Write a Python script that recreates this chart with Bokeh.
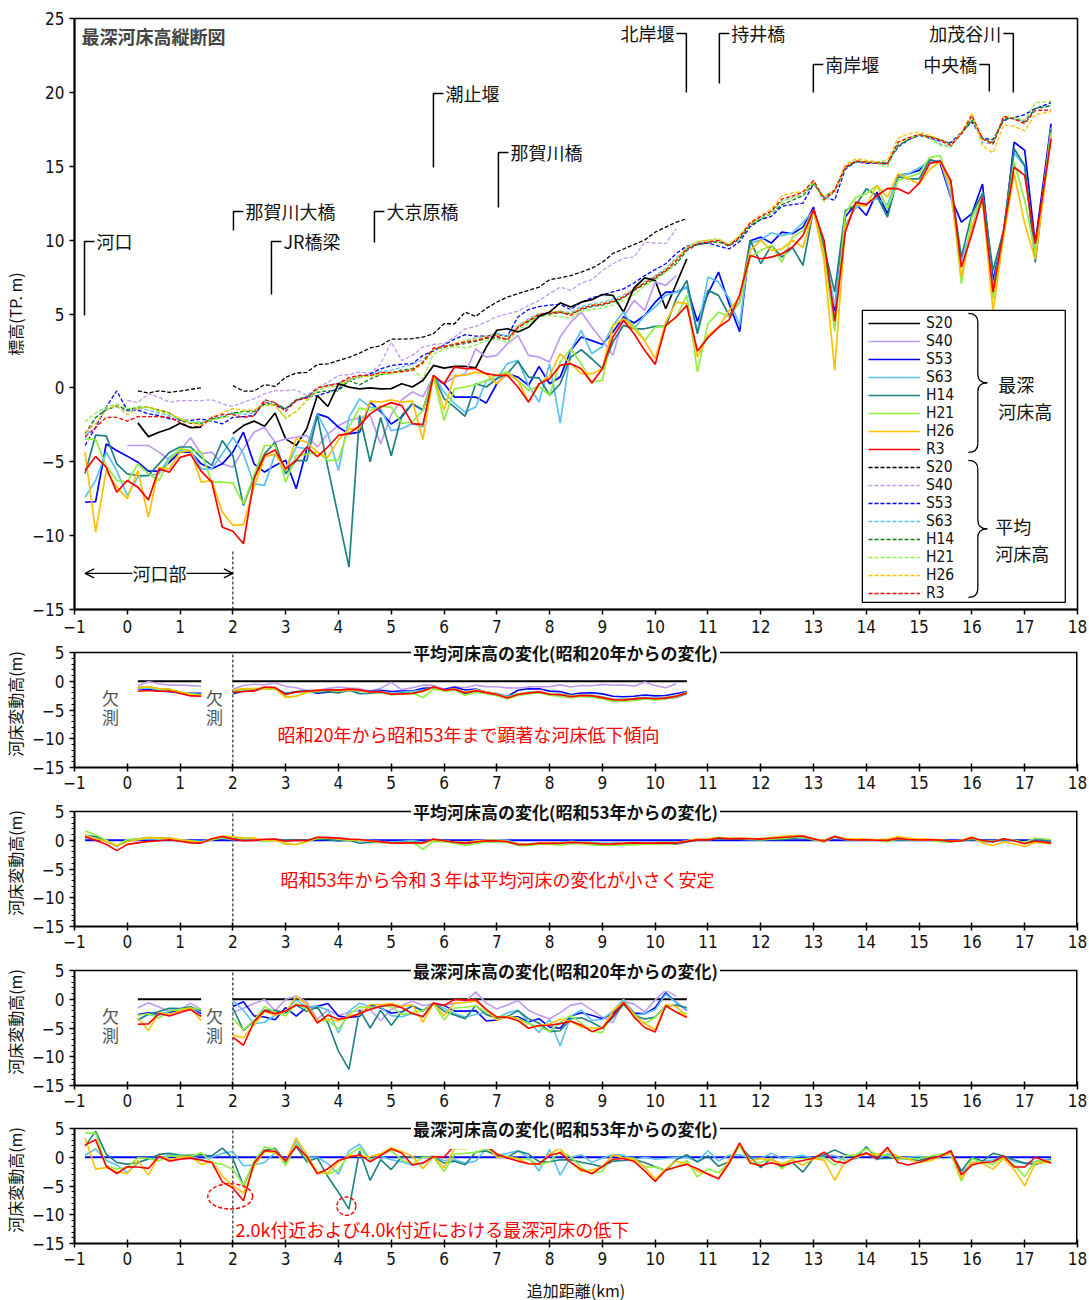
import numpy as np
from bokeh.plotting import figure
from bokeh.layouts import column
from bokeh.models import (Range1d, Legend, LegendItem, Label, Arrow, OpenHead, FixedTicker)
from bokeh.embed import file_html
from bokeh.resources import INLINE

N = float("nan")

# ---------------- data ----------------
X = [-0.8, -0.6, -0.4, -0.2, 0.0, 0.2, 0.4, 0.6, 0.8, 1.0,
     1.2, 1.4, 1.6, 1.8, 2.0, 2.2, 2.4, 2.6, 2.8, 3.0,
     3.2, 3.4, 3.6, 3.8, 4.0, 4.2, 4.4, 4.6, 4.8, 5.0,
     5.2, 5.4, 5.6, 5.8, 6.0, 6.2, 6.4, 6.6, 6.8, 7.0,
     7.2, 7.4, 7.6, 7.8, 8.0, 8.2, 8.4, 8.6, 8.8, 9.0,
     9.2, 9.4, 9.6, 9.8, 10.0, 10.2, 10.4, 10.6, 10.8, 11.0,
     11.2, 11.4, 11.6, 11.8, 12.0, 12.2, 12.4, 12.6, 12.8, 13.0,
     13.2, 13.4, 13.6, 13.8, 14.0, 14.2, 14.4, 14.6, 14.8, 15.0,
     15.2, 15.4, 15.6, 15.8, 16.0, 16.2, 16.4, 16.6, 16.8, 17.0,
     17.2, 17.5]

YEARS = ["S20", "S40", "S53", "S63", "H14", "H21", "H26", "R3"]

# deepest bed elevation (最深河床高)
deep_S20 = [N, N, N, N, N, -2.37, -3.3, -3.0, -2.77, -2.4,
            -2.7, -2.66, N, N, -3.1, -2.55, -2.25, -2.6, -1.7, -3.45,
            -3.9, -2.77, -0.52, -1.26, 0.27, 0.05, -0.07, 0.0, -0.07, -0.05,
            0.28, 0.06, 0.5, 1.52, 1.34, 1.45, 1.45, 1.36, 2.76, 3.9,
            4.0, 3.78, 4.1, 4.84, 5.13, 5.76, 5.47, 5.8, 5.97, 6.32,
            6.26, 5.13, 6.77, 7.45, 7.27, 5.36, 7.05, 8.74, N, N,
            N, N, N, N, N, N, N, N, N, N,
            N, N, N, N, N, N, N, N, N, N,
            N, N, N, N, N, N, N, N, N, N,
            N, N]
deep_S40 = [N, N, N, N, -3.9, -3.9, -3.9, -4.35, -4.9, -4.24,
            -3.38, -4.47, -4.35, -5.14, -5.37, -4.13, -3.0, -2.66, -3.68, -3.45,
            -3.34, -3.22, -4.0, -3.11, -2.55, -2.2, -2.03, -1.87, -3.8, -1.8,
            -0.8, -0.28, -0.6, 0.73, 0.28, 0.73, 0.96, 2.64, 2.08, 2.2,
            2.99, 3.55, 2.2, 2.08, 1.75, 3.44, 4.45, 5.13, 4.12, 3.21,
            2.2, 4.8, 5.92, 5.24, 7.16, 6.94, 7.6, N, N, N,
            N, N, N, N, N, N, N, N, N, N,
            N, N, N, N, N, N, N, N, N, N,
            N, N, N, N, N, N, N, N, N, N,
            N, N]
deep_S53 = [-7.74, -7.7, -3.8, -4.24, -4.62, -5.03, -5.64, -5.64, -5.03, -4.35,
            -4.35, -5.14, -5.48, -5.14, -4.35, -3.0, -5.14, -5.7, -5.25, -4.9,
            -6.83, -4.13, -1.76, -2.0, -2.66, -3.11, -3.0, -0.97, -1.6, -2.45,
            -1.95, -1.07, -1.52, 0.73, 0.28, -0.62, -0.62, -0.62, -1.03, 0.28,
            0.96, 0.73, 0.17, 1.45, 0.28, 0.73, 2.54, 3.44, 3.2, 2.94,
            3.78, 4.8, 4.39, 4.9, 5.8, 6.48, 6.48, 6.82, 4.5, 6.37,
            7.84, 5.7, 3.8, 9.96, 10.2, 9.8, 10.54, 10.43, 10.88, 12.23,
            9.1, 5.2, 11.56, 12.46, 11.67, 13.25, 11.79, 14.38, 14.49, 14.72,
            15.44, 15.17, 12.9, 11.22, 11.79, 13.8, 7.27, 10.43, 16.63, 16.07,
            9.76, 17.88]
deep_S63 = [-7.4, -6.27, -4.35, -5.6, -7.28, -6.04, -5.93, -5.82, -4.7, -4.24,
            -4.24, -5.48, -5.48, -4.47, -3.34, -4.47, -6.5, -6.6, -4.47, -5.6,
            -4.0, -4.13, -1.76, -3.11, -5.6, -2.0, -0.74, -1.3, -1.42, -2.9,
            -2.76, -2.42, -2.65, 0.85, -0.28, -1.07, -1.64, -1.3, 0.5, 0.62,
            1.64, 1.86, 0.17, -0.96, 1.64, -2.38, 2.54, 3.89, 2.31, 2.8,
            4.23, 5.13, 4.0, 4.9, 5.47, 6.26, 6.48, 6.82, 3.78, 7.5,
            7.16, 6.04, 4.23, 9.8, 10.0, 10.5, 10.3, 10.5, 11.2, 12.0,
            9.5, 5.5, 11.0, 12.2, 12.5, 12.8, 12.4, 14.3, 14.5, 14.9,
            15.3, 15.4, 13.0, 8.6, 10.8, 13.2, 6.8, 10.6, 15.9, 15.0,
            9.0, 17.6]
deep_H14 = [-5.8, -3.2, -3.25, -5.14, -5.82, -5.93, -5.93, -5.14, -4.35, -4.0,
            -4.0, -4.7, -5.25, -3.56, -4.58, -7.96, -6.04, -4.47, -3.68, -5.82,
            -4.92, -4.92, -1.87, -5.4, -8.75, -12.13, -1.87, -5.0, -2.0, -4.6,
            -1.87, -1.07, -1.5, 0.85, -0.73, -1.3, -1.92, 0.28, 0.06, 0.62,
            0.96, 1.8, 0.73, 0.68, -0.5, 0.28, 2.08, 2.58, 1.97, 1.3,
            3.1, 4.23, 4.0, 4.0, 4.16, 4.16, 6.04, 7.27, 3.66, 6.6,
            6.26, 4.9, 5.8, 10.0, 8.4, 9.64, 8.85, 9.5, 8.3, 12.1,
            9.53, 6.48, 12.0, 12.35, 13.48, 13.0, 11.56, 14.27, 14.15, 14.15,
            15.44, 15.28, 13.9, 8.85, 11.79, 13.14, 7.95, 10.66, 16.18, 15.05,
            8.5, 17.5]
deep_H21 = [-3.45, -3.5, -5.25, -6.27, -6.38, -5.14, -5.82, -6.27, -4.8, -4.13,
            -4.24, -4.35, -6.38, -6.38, -6.45, -7.85, -5.93, -3.9, -3.9, -6.38,
            -4.58, -4.5, -4.35, -4.92, -4.87, -2.66, -1.35, -1.53, -1.26, -1.3,
            -2.4, -2.3, -1.52, 0.73, -2.2, -0.06, 0.06, 0.23, 0.5, 0.85,
            1.07, 0.5, -0.17, 0.1, -0.5, 1.75, 2.65, 1.64, 0.4, 0.5,
            4.23, 4.68, 4.23, 3.2, 4.1, 4.16, 4.8, 6.26, 1.07, 4.34,
            5.13, 4.8, 5.8, 8.85, 9.3, 9.64, 8.5, 10.2, 10.66, 12.0,
            9.08, 3.8, 11.8, 12.9, 13.14, 13.7, 12.12, 14.04, 14.27, 14.5,
            15.6, 15.73, 13.6, 7.05, 11.56, 12.9, 6.03, 10.43, 15.28, 12.7,
            9.08, 17.3]
deep_H26 = [-4.35, -9.77, -5.6, -6.72, -7.5, -5.6, -8.75, -5.37, -5.48, -4.35,
            -4.24, -6.38, -6.27, -8.41, -9.3, -9.25, -6.72, -4.69, -4.47, -5.6,
            -3.45, -3.68, -4.35, -4.69, -3.52, -2.77, -2.77, -0.9, -0.97, -0.81,
            -0.97, -0.9, -3.5, 0.85, -1.52, 0.85, 0.85, 1.07, 0.96, 0.28,
            0.96, 0.5, -0.96, 0.23, 0.85, 2.3, 1.64, 0.96, 0.96, 1.3,
            4.23, 4.68, 4.0, 3.2, 1.97, 4.45, 5.8, 5.7, 2.08, 3.55,
            4.1, 5.24, 6.15, 9.3, 10.0, 9.3, 9.4, 10.0, 9.5, 12.0,
            8.6, 1.2, 10.8, 12.4, 12.3, 13.7, 12.9, 14.5, 14.15, 13.8,
            14.8, 15.3, 13.6, 7.5, 10.9, 12.7, 5.2, 10.2, 14.5, 11.1,
            8.7, 17.0]
deep_R3 = [-5.6, -4.65, -5.37, -7.06, -6.27, -6.72, -7.58, -5.48, -5.7, -4.7,
           -4.5, -5.64, -6.38, -9.43, -9.7, -10.55, -6.16, -4.58, -4.2, -5.48,
           -4.9, -4.0, -4.65, -4.0, -3.22, -3.1, -2.55, -1.76, -1.3, -1.0,
           -1.2, -2.42, -2.49, 0.85, 0.28, 1.41, 1.3, 1.3, 0.96, 0.85,
           0.85, 0.06, -0.96, 0.28, 0.62, 1.52, 1.64, 1.3, 0.33, 1.3,
           3.44, 4.57, 3.66, 2.54, 1.59, 4.23, 4.8, 5.58, 2.5, 3.4,
           4.1, 4.6, 6.3, 8.96, 8.74, 8.85, 9.08, 9.53, 10.32, 12.06,
           9.98, 4.5, 10.54, 12.57, 12.4, 13.0, 13.5, 13.48, 13.14, 13.86,
           15.2, 15.35, 14.04, 8.17, 10.43, 12.9, 6.48, 10.66, 14.94, 14.38,
           9.76, 16.86]

# mean bed elevation (平均河床高)
mean_S20 = [N, N, N, N, N, -0.2, -0.35, -0.2, -0.3, -0.22,
            -0.1, 0.0, N, N, 0.15, -0.22, -0.22, 0.22, 0.1, 0.72,
            1.0, 1.05, 1.58, 1.62, 1.85, 2.07, 2.35, 2.7, 2.86, 3.3,
            3.3, 3.33, 3.44, 3.66, 4.34, 4.34, 5.13, 4.84, 5.38, 5.8,
            6.15, 6.37, 6.6, 6.82, 7.32, 7.45, 7.6, 7.84, 8.1, 8.5,
            9.1, 9.4, 9.7, 10.0, 10.54, 10.88, 11.22, 11.45, N, N,
            N, N, N, N, N, N, N, N, N, N,
            N, N, N, N, N, N, N, N, N, N,
            N, N, N, N, N, N, N, N, N, N,
            N, N]
mean_S40 = [N, N, N, N, -0.85, -1.0, -0.4, -0.63, -0.97, -0.86,
            -0.86, -0.86, -0.8, -1.08, -1.26, -0.97, -0.74, -0.4, -0.18, -0.18,
            -0.13, -0.52, 0.0, 0.38, 0.83, 0.9, 1.06, 1.0, 1.62, 3.1,
            1.85, 2.2, 2.76, 2.94, 3.0, 3.44, 4.0, 4.16, 4.45, 4.84,
            5.0, 5.2, 5.58, 5.92, 6.37, 6.82, 6.6, 7.1, 7.32, 7.95,
            8.4, 8.76, 8.85, 9.87, 9.8, 9.76, 10.77, N, N, N,
            N, N, N, N, N, N, N, N, N, N,
            N, N, N, N, N, N, N, N, N, N,
            N, N, N, N, N, N, N, N, N, N,
            N, N]
mean_S53 = [-3.9, -2.66, -1.3, -0.2, -1.53, -1.5, -1.76, -1.87, -2.1, -2.17,
            -2.2, -2.1, -2.25, -2.44, -2.0, -1.94, -1.87, -0.97, -1.2, -1.42,
            -0.86, -0.63, -0.52, -0.3, -0.07, 0.5, 0.72, 0.95, 1.29, 1.51,
            1.6, 1.63, 2.2, 2.5, 2.9, 3.3, 3.6, 3.5, 3.5, 3.6,
            3.5, 4.8, 5.3, 5.5, 5.6, 5.65, 5.3, 5.8, 6.1, 6.3,
            6.5, 6.7, 7.1, 7.6, 8.0, 8.4, 9.1, 9.6, 9.7, 9.8,
            9.6, 9.4, 9.9, 10.9, 11.4, 11.6, 12.3, 12.4, 12.5, 13.8,
            12.9, 12.7, 14.8, 15.3, 15.2, 15.2, 15.2, 16.3, 16.8, 17.1,
            16.9, 16.7, 16.6, 17.3, 18.0, 16.9, 16.8, 18.1, 18.3, 18.5,
            18.9, 19.3]
mean_S63 = [-3.5, -2.0, -1.4, -1.3, -1.6, -1.4, -1.5, -1.7, -1.9, -2.1,
            -2.3, -2.3, -2.1, -1.9, -1.7, -1.8, -1.7, -0.9, -1.0, -1.4,
            -0.9, -0.6, -0.1, 0.2, 0.3, 0.6, 0.8, 0.9, 1.1, 1.2,
            1.4, 1.6, 1.9, 2.6, 2.8, 3.0, 3.2, 3.4, 3.5, 3.7,
            3.5, 4.2, 4.7, 5.0, 5.1, 5.2, 5.1, 5.5, 5.7, 5.8,
            6.0, 6.3, 6.7, 7.2, 7.6, 8.1, 8.8, 9.4, 9.8, 9.9,
            9.9, 9.6, 10.1, 11.0, 11.5, 11.9, 12.6, 12.9, 13.1, 13.9,
            12.8, 13.2, 14.9, 15.3, 15.3, 15.2, 15.1, 16.4, 16.8, 17.1,
            17.0, 16.5, 16.3, 17.2, 18.2, 16.6, 16.5, 18.2, 18.2, 18.0,
            18.9, 19.1]
mean_H14 = [-3.1, -2.0, -1.5, -1.2, -1.5, -1.3, -1.3, -1.5, -1.7, -2.2,
            -2.4, -2.4, -2.1, -2.0, -1.7, -1.6, -1.6, -1.1, -1.1, -1.4,
            -0.8, -0.6, -0.3, -0.2, -0.2, 0.5, 0.2, 0.6, 0.9, 1.0,
            1.2, 1.3, 1.7, 2.6, 2.75, 2.9, 3.0, 3.15, 3.35, 3.4,
            3.3, 4.1, 4.5, 4.9, 5.0, 5.1, 5.0, 5.3, 5.5, 5.6,
            5.8, 6.1, 6.6, 7.0, 7.4, 7.9, 8.4, 9.3, 9.7, 9.8,
            9.9, 9.6, 10.1, 11.0, 11.4, 11.8, 12.4, 12.7, 13.0, 13.8,
            12.9, 13.4, 14.9, 15.3, 15.3, 15.3, 15.2, 16.4, 16.8, 17.1,
            17.0, 16.8, 16.5, 17.2, 18.1, 16.9, 16.6, 18.2, 18.3, 18.0,
            18.9, 19.1]
mean_H21 = [-2.3, -1.7, -1.3, -1.1, -1.4, -1.3, -1.3, -1.6, -1.8, -2.1,
            -2.3, -2.4, -2.2, -2.0, -1.9, -1.6, -1.5, -1.2, -1.2, -2.1,
            -1.6, -0.9, -0.2, 0.1, 0.1, 0.5, 0.7, 0.8, 0.9, 0.95,
            1.1, 1.3, 0.6, 2.3, 2.6, 2.8, 2.7, 2.9, 3.2, 3.3,
            3.1, 3.9, 4.4, 4.8, 4.9, 4.8, 4.7, 5.2, 5.3, 5.4,
            5.6, 5.9, 6.3, 6.9, 7.3, 7.8, 8.5, 9.5, 9.9, 10.0,
            10.1, 9.7, 10.3, 11.1, 11.5, 11.8, 12.6, 12.9, 13.1, 13.9,
            12.6, 13.3, 15.0, 15.4, 15.3, 15.2, 14.9, 16.6, 16.9, 17.1,
            16.9, 16.4, 16.3, 17.3, 18.3, 16.8, 16.6, 18.4, 18.3, 18.1,
            19.3, 19.4]
mean_H26 = [-3.0, -2.4, -1.5, -1.2, -1.8, -1.4, -1.3, -1.5, -1.7, -2.1,
            -2.4, -2.5, -2.0, -1.7, -1.4, -1.5, -1.5, -1.0, -1.2, -2.0,
            -1.6, -0.8, 0.0, 0.15, 0.2, 0.6, 0.8, 0.8, 1.0, 1.0,
            1.1, 1.2, 1.6, 2.6, 2.8, 3.0, 3.2, 3.3, 3.5, 3.6,
            3.3, 4.2, 4.6, 5.0, 5.1, 5.2, 5.0, 5.4, 5.6, 5.7,
            5.9, 6.2, 6.7, 7.1, 7.5, 8.0, 8.7, 9.5, 9.9, 10.0,
            10.0, 9.7, 10.3, 11.2, 11.7, 12.1, 13.0, 13.2, 13.3, 14.0,
            12.9, 13.4, 15.1, 15.5, 15.4, 15.3, 15.4, 16.9, 17.2, 17.3,
            17.1, 16.8, 16.4, 17.3, 18.6, 16.4, 15.9, 17.8, 17.7, 17.4,
            18.5, 18.7]
mean_R3 = [-3.3, -2.7, -2.0, -2.0, -2.25, -1.95, -1.95, -1.95, -2.0, -2.35,
           -2.65, -2.6, -2.0, -1.8, -1.8, -2.0, -1.9, -0.8, -1.0, -1.6,
           -0.85, -0.7, 0.0, 0.15, 0.3, 0.7, 0.85, 0.85, 1.05, 1.05,
           1.1, 1.2, 1.75, 2.7, 2.8, 2.95, 3.1, 3.2, 3.4, 3.5,
           3.25, 4.07, 4.55, 4.97, 5.06, 5.13, 4.9, 5.36, 5.58, 5.65,
           5.87, 6.15, 6.64, 7.1, 7.5, 7.95, 8.6, 9.4, 9.76, 9.87,
           9.98, 9.64, 10.2, 11.15, 11.6, 11.96, 12.77, 13.0, 13.25, 14.04,
           12.73, 13.36, 14.94, 15.35, 15.28, 15.21, 15.17, 16.63, 16.93, 17.15,
           16.97, 16.75, 16.4, 17.2, 18.44, 16.86, 16.5, 18.37, 18.2, 17.88,
           18.78, 18.8]

# bridges / weirs along the river
SITES = ["河口", "那賀川大橋", "JR橋梁", "大京原橋", "潮止堰", "那賀川橋",
         "北岸堰", "持井橋", "南岸堰", "中央橋", "加茂谷川"]

# ---------------- styling ----------------
DEEP_COL = {"S20": "#000000", "S40": "#bf9bef", "S53": "#0000ff", "S63": "#5bc0f5",
            "H14": "#1e8080", "H21": "#90ee40", "H26": "#ffc000", "R3": "#ff0000"}
MEAN_COL = dict(DEEP_COL, H14="#0d7a0d")
FONT_NUM = "DejaVu Sans Condensed, Roboto, sans-serif"
FONT_JP = "Noto Sans CJK JP"

deep = {y: np.array(v, dtype=float) for y, v in zip(YEARS, [deep_S20, deep_S40, deep_S53, deep_S63,
                                                             deep_H14, deep_H21, deep_H26, deep_R3])}
mean = {y: np.array(v, dtype=float) for y, v in zip(YEARS, [mean_S20, mean_S40, mean_S53, mean_S63,
                                                             mean_H14, mean_H21, mean_H26, mean_R3])}
xs = np.array(X, dtype=float)


# reference pixel -> data helpers for annotation placement (main chart)
def px2x(px):
    return (px - 72) / 52.8 - 1


def py2y(py):
    return 25 - (py - 18) / 14.78


MINUS = {v: str(v).replace("-", "\u2212") for v in range(-15, 0)}
HEAD = 12                                  # px of room above each panel box for its title
PANEL_TOP = 5 + HEAD * 20 / 115.0


def make_fig(frame_h, top, bottom, yr, yticks, minor=None, small=True):
    p = figure(frame_width=1003, frame_height=frame_h, x_range=Range1d(-1, 18), y_range=Range1d(*yr),
               output_backend="svg", toolbar_location=None, min_border_left=72, min_border_right=14,
               min_border_top=top, min_border_bottom=bottom)
    p.xgrid.visible = False
    p.ygrid.visible = False
    xa = p.xaxis[0]
    ya = p.yaxis[0]
    xa.ticker = FixedTicker(ticks=list(range(-1, 19)))
    ya.ticker = FixedTicker(ticks=yticks, minor_ticks=minor or [])
    xa.major_label_overrides = MINUS
    ya.major_label_overrides = MINUS
    for ax in (xa, ya):
        ax.axis_line_width = 2
        ax.axis_line_color = "black"
        ax.major_tick_line_width = 1.5
        ax.major_tick_line_color = "black"
        ax.major_label_text_font = FONT_NUM
        ax.major_label_text_font_size = "17px"
        ax.major_label_text_color = "#111111"
        ax.axis_label_text_font = FONT_JP
        ax.axis_label_text_font_size = "16px"
        ax.axis_label_text_line_height = 1.0
        ax.axis_label_text_font_style = "normal"
        ax.axis_label_text_color = "#111111"
    ya.major_tick_out = 5
    ya.major_tick_in = 0
    ya.major_label_standoff = 5
    if small:
        xa.major_tick_in = 4
        xa.major_tick_out = 4
        xa.major_label_standoff = 4
        ya.minor_tick_out = 3
        ya.minor_tick_in = 0
        ya.minor_tick_line_color = "black"
        ya.bounds = (-15, 5)
        p.outline_line_color = None
        # box top and right side at the panel's upper limit
        p.segment(x0=[-1, 18], y0=[5, -15], x1=[18, 18], y1=[5, 5], line_color="black", line_width=[1.5, 3])
    else:
        xa.major_tick_in = 0
        xa.major_tick_out = 5
        xa.major_label_standoff = 5
        ya.minor_tick_line_color = None
        p.outline_line_color = "black"
        p.outline_line_width = 1.5
    xa.minor_tick_line_color = None
    ya.axis_label_standoff = 2
    return p


# ---------------- main profile chart ----------------
p = make_fig(591, 18, 31, (-15, 25), list(range(-15, 26, 5)), small=False)
p.yaxis[0].axis_label = "標高(TP. m)"

solid_r = {}
dash_r = {}
for y in YEARS:
    dash_r[y] = p.line(xs, mean[y], line_color=MEAN_COL[y], line_width=1.3, line_dash="4 2")
for y in YEARS:
    solid_r[y] = p.line(xs, deep[y], line_color=DEEP_COL[y], line_width=1.7)

# legend frame (white box above the lines), entries drawn by a transparent Legend
p.quad(left=[px2x(860)], right=[px2x(1063)], top=[py2y(310)], bottom=[py2y(602)],
       fill_color="white", line_color="black", line_width=1.3, level="guide")

items = [LegendItem(label=y, renderers=[solid_r[y]]) for y in YEARS] + \
        [LegendItem(label=y, renderers=[dash_r[y]]) for y in YEARS]
legend = Legend(items=items, location=(794, 7), glyph_width=52, glyph_height=18, label_height=18,
                spacing=0, padding=2, margin=0, label_standoff=6, label_width=30,
                border_line_color=None, background_fill_alpha=0.0,
                label_text_font=FONT_NUM, label_text_font_size="15.5px", label_text_line_height=1.0,
                label_text_color="#111111")
p.add_layout(legend)


# braces for legend groups
def brace(x0, x1, ytop, ybot):
    xm = (x0 + x1) / 2
    ym = (ytop + ybot) / 2
    dy = 0.6
    p.quadratic(x0=[x0, xm, x1, xm], y0=[ytop, ym + dy, ym, ybot + dy],
                x1=[xm, x1, xm, x0], y1=[ytop - dy, ym, ym - dy, ybot],
                cx=[xm, xm, xm, xm], cy=[ytop, ym, ym, ybot], line_color="black", line_width=1.3,
                level="guide")
    p.segment(x0=[xm, xm], y0=[ytop - dy, ym - dy], x1=[xm, xm], y1=[ym + dy, ybot + dy],
              line_color="black", line_width=1.3, level="guide")


brace(px2x(966), px2x(985), py2y(313), py2y(452))
brace(px2x(966), px2x(985), py2y(460), py2y(597))
for txt, px_, py_ in [("最深", 996, 384), ("河床高", 996, 411), ("平均", 993, 526), ("河床高", 993, 553)]:
    p.add_layout(Label(x=px2x(px_), y=py2y(py_), text=txt, text_font=FONT_JP, text_font_size="18px",
                       text_baseline="middle", text_align="left", text_color="#111111"))

# title inside plot
p.add_layout(Label(x=px2x(79), y=py2y(36), text="最深河床高縦断図", text_font=FONT_JP,
                   text_font_size="18px", text_font_style="bold", text_baseline="middle"))

# site brackets
SITE_PX = [(82, 315, 241, "r"), (231, 230, 211, "r"), (269, 294, 241, "r"), (372, 242, 211, "r"),
           (431, 167, 93, "r"), (496, 207, 152, "r"), (684, 92, 33, "l"), (717, 83, 33, "r"),
           (811, 92, 64, "r"), (987, 91, 64, "l"), (1011, 92, 33, "l")]
for name, (xv, yb, yt, side) in zip(SITES, SITE_PX):
    s = 1 if side == "r" else -1
    p.line([px2x(xv), px2x(xv), px2x(xv + s * 10)], [py2y(yb), py2y(yt), py2y(yt)],
           line_color="black", line_width=1.5)
    p.add_layout(Label(x=px2x(xv + s * 12), y=py2y(yt), text=name, text_font=FONT_JP,
                       text_font_size="18px", text_baseline="middle",
                       text_align="left" if side == "r" else "right", text_color="#111111"))

# estuary section
p.segment(x0=[2.0], y0=[-15], x1=[2.0], y1=[-11], line_color="black", line_width=1, line_dash="3 2")
p.add_layout(Arrow(start=OpenHead(size=9, line_width=1.3), end=OpenHead(size=9, line_width=1.3),
                   x_start=-0.8, y_start=py2y(573), x_end=2.0, y_end=py2y(573), line_width=1.3))
p.add_layout(Label(x=px2x(157), y=py2y(573), text="河口部", text_font=FONT_JP, text_font_size="18px",
                   text_align="center", text_baseline="middle", background_fill_color="white",
                   text_color="#111111"))


# ---------------- change panels ----------------
def panel(bottom, title, base, series, src, note=None, missing=False, xlabel=None):
    q = make_fig(115 + HEAD, 0, bottom, (-15, PANEL_TOP), [-15, -10, -5, 0, 5], minor=list(range(-15, 6)))
    q.yaxis[0].axis_label = "河床変動高(m)"
    if xlabel:
        q.xaxis[0].axis_label = xlabel
        q.xaxis[0].axis_label_standoff = 10
    q.segment(x0=[2.0], y0=[-15], x1=[2.0], y1=[5], line_color="black", line_width=1, line_dash="3 2")
    for y in series:
        q.line(xs, src[y] - src[base], line_color=DEEP_COL[y], line_width=2.0 if y == base else 1.6)
    q.add_layout(Label(x=8.3, y=5, text=title, text_font=FONT_JP, text_font_size="17px",
                       text_font_style="bold", text_align="center", text_baseline="middle",
                       background_fill_color="white", padding=(2, 8), text_color="#111111"))
    if missing:
        for xm in (px2x(108), px2x(212)):
            q.add_layout(Label(x=xm, y=-2.8, text="欠", text_font=FONT_JP, text_font_size="17px",
                               text_align="center", text_baseline="middle", text_color="#555555"))
            q.add_layout(Label(x=xm, y=-6.2, text="測", text_font=FONT_JP, text_font_size="17px",
                               text_align="center", text_baseline="middle", text_color="#555555"))
    if note:
        txt, nx, ny, align = note
        q.add_layout(Label(x=nx, y=ny, text=txt, text_font=FONT_JP, text_font_size="18px",
                           text_align=align, text_baseline="middle", text_color="#ff0000"))
    return q


q1 = panel(32, "平均河床高の変化(昭和20年からの変化)", "S20", YEARS, mean,
           note=("昭和20年から昭和53年まで顕著な河床低下傾向", px2x(466), -9.1, "center"), missing=True)
q2 = panel(32, "平均河床高の変化(昭和53年からの変化)", "S53", YEARS[2:], mean,
           note=("昭和53年から令和３年は平均河床の変化が小さく安定", px2x(495), -6.8, "center"))
q3 = panel(31, "最深河床高の変化(昭和20年からの変化)", "S20", YEARS, deep, missing=True)
q4 = panel(57, "最深河床高の変化(昭和53年からの変化)", "S53", YEARS[2:], deep,
           note=("2.0k付近および4.0k付近における最深河床の低下", px2x(233), -12.4, "left"),
           xlabel="追加距離(km)")
q4.ellipse(x=[1.95, 4.15], y=[-6.8, -8.5], width=[0.85, 0.36], height=[4.4, 3.2],
           fill_alpha=0, line_color="#ff0000", line_width=1.4, line_dash="4 2")

layout = column(p, q1, q2, q3, q4, spacing=0)
open("out.html", "w").write(file_html(layout, INLINE, "最深河床高縦断図"))
